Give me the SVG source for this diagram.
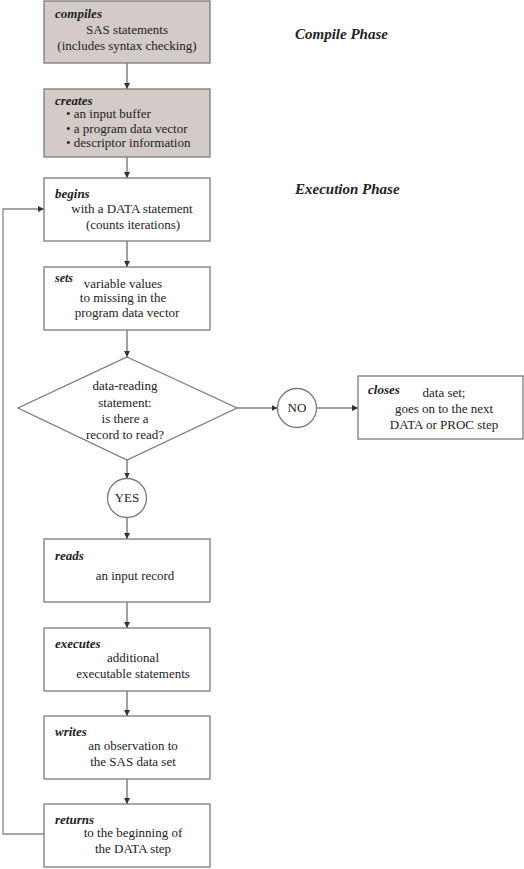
<svg xmlns="http://www.w3.org/2000/svg" width="524" height="869" viewBox="0 0 524 869">
<style>
.box{fill:#ffffff;stroke:#7a7a7a;stroke-width:1.3}
.gray{fill:#d3cbc8}
.t{font-family:"Liberation Serif","Times New Roman",serif;font-size:13px;fill:#222}
.c{text-anchor:middle}
.k{font-family:"Liberation Serif","Times New Roman",serif;font-size:13px;font-weight:bold;font-style:italic;fill:#222}
.ph{font-family:"Liberation Serif","Times New Roman",serif;font-size:15px;font-weight:bold;font-style:italic;fill:#222}
.ln{fill:none;stroke:#444;stroke-width:1}
.lp{fill:none;stroke:#888;stroke-width:1.3}
</style>
<defs>
<marker id="ah" markerWidth="7" markerHeight="7" refX="6" refY="3" orient="auto" markerUnits="userSpaceOnUse">
<path d="M0,0 L6,3 L0,6 Z" fill="#333"/>
</marker>
</defs>
<rect width="524" height="869" fill="#ffffff"/>
<text class="ph" x="295" y="39">Compile Phase</text>
<text class="ph" x="295" y="194">Execution Phase</text>
<g id="connectors">
<line class="ln" x1="127" y1="63" x2="127" y2="89" marker-end="url(#ah)"/>
<line class="ln" x1="127" y1="157" x2="127" y2="178" marker-end="url(#ah)"/>
<line class="ln" x1="127" y1="241" x2="127" y2="267" marker-end="url(#ah)"/>
<line class="ln" x1="127" y1="330" x2="127" y2="357" marker-end="url(#ah)"/>
<line class="ln" x1="127" y1="460" x2="127" y2="478.5" marker-end="url(#ah)"/>
<line class="ln" x1="127" y1="517.5" x2="127" y2="539" marker-end="url(#ah)"/>
<line class="ln" x1="127" y1="602" x2="127" y2="628" marker-end="url(#ah)"/>
<line class="ln" x1="127" y1="691" x2="127" y2="716" marker-end="url(#ah)"/>
<line class="ln" x1="127" y1="779" x2="127" y2="804" marker-end="url(#ah)"/>
<line class="ln" x1="237" y1="408" x2="277.5" y2="408" marker-end="url(#ah)"/>
<line class="ln" x1="316" y1="408" x2="358" y2="408" marker-end="url(#ah)"/>
<polyline class="lp" points="44,834 3,834 3,209 44,209" marker-end="url(#ah)"/>
</g>
<g id="compiles">
<rect class="box gray" x="44" y="1" width="166" height="62"/>
<text class="k" x="55" y="18">compiles</text>
<text class="t c" x="127" y="34">SAS statements</text>
<text class="t c" x="127" y="50">(includes syntax checking)</text>
</g>
<g id="creates">
<rect class="box gray" x="44" y="89" width="166" height="68"/>
<text class="k" x="55" y="105">creates</text>
<text class="t" x="66" y="118">• an input buffer</text>
<text class="t" x="66" y="133">• a program data vector</text>
<text class="t" x="66" y="147">• descriptor information</text>
</g>
<g id="begins">
<rect class="box" x="44" y="178" width="166" height="63"/>
<text class="k" x="55" y="198">begins</text>
<text class="t c" x="132" y="213">with a DATA statement</text>
<text class="t c" x="133" y="229">(counts iterations)</text>
</g>
<g id="sets">
<rect class="box" x="44" y="267" width="166" height="63"/>
<text class="k" x="55" y="282" style="font-size:12px">sets</text>
<text class="t c" x="123" y="288">variable values</text>
<text class="t c" x="123" y="302">to missing in the</text>
<text class="t c" x="127" y="317">program data vector</text>
</g>
<g id="decision">
<polygon class="box" points="127,357 237,408 127,460 18,408"/>
<text class="t c" x="125" y="390">data-reading</text>
<text class="t c" x="125" y="407">statement:</text>
<text class="t c" x="125" y="423">is there a</text>
<text class="t c" x="125" y="439">record to read?</text>
</g>
<g id="no">
<circle class="box" cx="297" cy="408" r="19.5"/>
<text class="t c" x="297" y="412">NO</text>
</g>
<g id="closes">
<rect class="box" x="358" y="376" width="165" height="63"/>
<text class="k" x="368" y="394">closes</text>
<text class="t c" x="444" y="397">        data set;</text>
<text class="t c" x="444" y="413">goes on to the next</text>
<text class="t c" x="444" y="429">DATA or PROC step</text>
</g>
<g id="yes">
<circle class="box" cx="127" cy="498" r="19.5"/>
<text class="t c" x="127" y="502">YES</text>
</g>
<g id="reads">
<rect class="box" x="44" y="539" width="166" height="63"/>
<text class="k" x="55" y="560">reads</text>
<text class="t c" x="135" y="580">an input record</text>
</g>
<g id="executes">
<rect class="box" x="44" y="628" width="166" height="63"/>
<text class="k" x="55" y="648">executes</text>
<text class="t c" x="133" y="662">additional</text>
<text class="t c" x="133" y="678">executable statements</text>
</g>
<g id="writes">
<rect class="box" x="44" y="716" width="166" height="63"/>
<text class="k" x="55" y="736">writes</text>
<text class="t c" x="133" y="750">an observation to</text>
<text class="t c" x="133" y="766">the SAS data set</text>
</g>
<g id="returns">
<rect class="box" x="44" y="804" width="166" height="63"/>
<text class="k" x="55" y="824">returns</text>
<text class="t c" x="133" y="837">to the beginning of</text>
<text class="t c" x="133" y="853">the DATA step</text>
</g>
</svg>
